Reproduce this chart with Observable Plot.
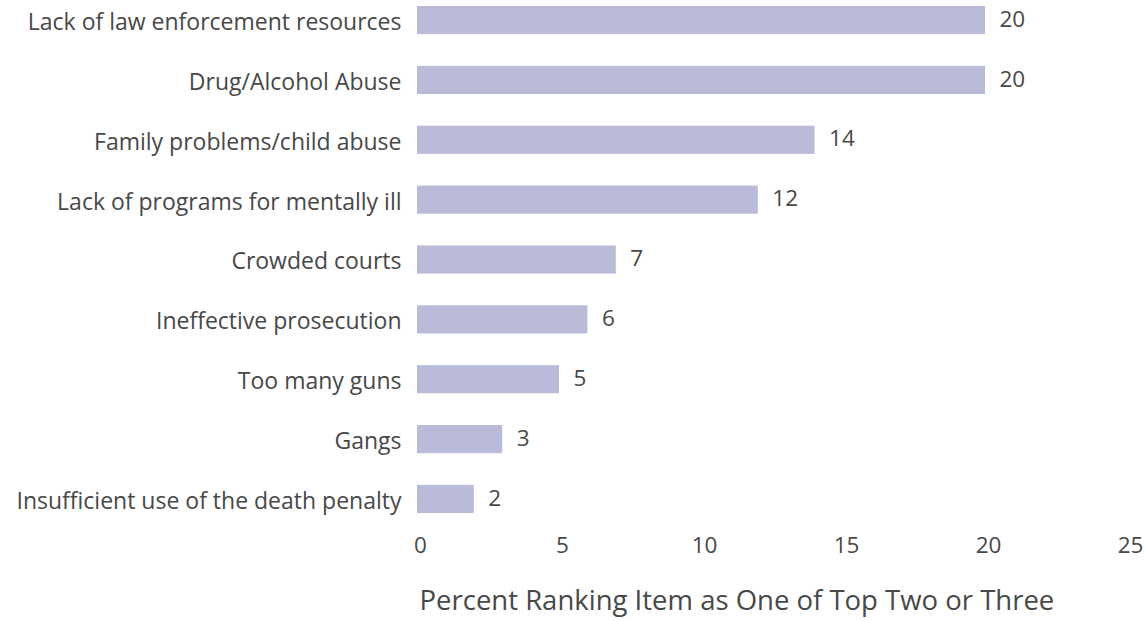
<!DOCTYPE html>
<html>
<head>
<meta charset="utf-8">
<script src="https://cdn.jsdelivr.net/npm/d3@7"></script>
<script src="https://cdn.jsdelivr.net/npm/@observablehq/plot@0.6"></script>
<style>
  html, body { margin: 0; padding: 0; background: #fff; }
  #chart svg { display: block; font-family: "Open Sans", sans-serif; }
</style>
</head>
<body>
<div id="chart"></div>
<script>
const categories = [
  "Lack of law enforcement resources",
  "Drug/Alcohol Abuse",
  "Family problems/child abuse",
  "Lack of programs for mentally ill",
  "Crowded courts",
  "Ineffective prosecution",
  "Too many guns",
  "Gangs",
  "Insufficient use of the death penalty"
];
const values = [20, 20, 14, 12, 7, 6, 5, 3, 2];
const xTicks = [0, 5, 10, 15, 20, 25];
const xLabel = "Percent Ranking Item as One of Top Two or Three";

const data = categories.map((c, i) => ({category: c, value: values[i]}));
const textColor = "#484848";
const barColor = "#b9bbd9";

const chart = Plot.plot({
  width: 1146,
  height: 621,
  marginLeft: 417,
  marginRight: 19,
  marginTop: 6,
  marginBottom: 108,
  style: {fontFamily: "'Open Sans', sans-serif", color: textColor, background: "#fff"},
  x: {domain: [0, 25]},
  y: {domain: categories, paddingInner: 0.53, paddingOuter: 0, round: false},
  marks: [
    Plot.barX(data, {x: "value", y: "category", fill: barColor}),
    Plot.text(data, {
      x: "value", y: "category", text: d => String(d.value),
      textAnchor: "start", dx: 14, dy: -1, fontSize: 22.5, fill: textColor
    }),
    Plot.axisY({tickSize: 0, tickPadding: 16, dy: 2, fontSize: 23, label: null, color: textColor}),
    Plot.axisX({
      ticks: xTicks, tickSize: 0, tickPadding: 24, dx: 3, fontSize: 22.5,
      label: null, color: textColor
    }),
    Plot.text([xLabel], {
      frameAnchor: "bottom-left", text: d => d, textAnchor: "start",
      lineAnchor: "middle", dx: 2, dy: 88, fontSize: 27.5, fill: textColor
    })
  ]
});
document.getElementById("chart").appendChild(chart);
</script>
</body>
</html>
